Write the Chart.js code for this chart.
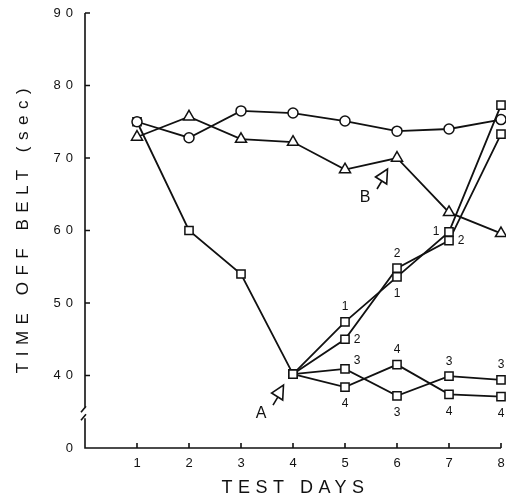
<!DOCTYPE html>
<html>
<head>
<meta charset="utf-8">
<script src="https://cdn.jsdelivr.net/npm/chart.js@4.4.0/dist/chart.umd.min.js"></script>
<style>
  html, body { margin: 0; padding: 0; background: #fff; }
</style>
</head>
<body>
<canvas id="belt-chart" width="506" height="498"></canvas>
<script>
// test days and the three groups (circles, triangles, squares)
const days = [1, 2, 3, 4, 5, 6, 7, 8];
const circleValues = [75.0, 72.8, 76.5, 76.2, 75.1, 73.7, 74.0, 75.3];
const triangleValues = [72.9, 75.7, 72.6, 72.2, 68.4, 70.0, 62.5, 59.6];

// squares: one line to day 4, then four sub-groups branch off
const baseDays = [1, 2, 3, 4];
const baseValues = [75.0, 60.0, 54.0, 40.2];
const branchDays = [4, 5, 6, 7, 8];
const branch1 = [40.2, 47.4, 53.6, 59.8, 77.3];
const branch2 = [40.2, 45.0, 54.8, 58.6, 73.3];
const branch3 = [40.2, 40.9, 37.2, 39.9, 39.4];
const branch4 = [40.2, 38.4, 41.5, 37.4, 37.1];
const branchNames = ['1', '2', '3', '4'];

// y axis is broken: the lowest tick (30) is labelled 0
const yTicks = [30, 40, 50, 60, 70, 80, 90];
const yTickLabels = ['0', '40', '50', '60', '70', '80', '90'];

// arrows "A" and "B" point at these data points
const arrowMarks = [
    { text: 'A', x: 4, y: 40.2 },
    { text: 'B', x: 6, y: 70.0 }
];

const ink = '#111';
const tickFont = { family: 'Liberation Sans', size: 13 };

// where each branch number sits next to its point on days 5..8
const labelSpots = [
    ['above', 'below', 'left', null],
    ['right', 'above', 'right', null],
    ['upright', 'below', 'above', 'above'],
    ['below', 'above', 'below', 'below']
];
const spotOffset = {
    above: [0, -15], below: [0, 17], left: [-13, 0], right: [12, 0], upright: [12, -8]
};

function pts(xs, ys) {
    return xs.map((d, i) => ({ x: d, y: ys[i] }));
}

function lineSet(xs, ys, style, radius) {
    return {
        data: pts(xs, ys),
        borderColor: ink,
        borderWidth: 1.8,
        pointStyle: style,
        pointRadius: radius,
        pointBorderWidth: 1.5,
        pointBorderColor: ink,
        pointBackgroundColor: '#fff',
        tension: 0,
        clip: false
    };
}

const branches = [branch1, branch2, branch3, branch4];

const figureDecor = {
    id: 'figureDecor',
    beforeLayout(chart) { chart.ctx.letterSpacing = '5px'; },
    beforeDraw(chart) { chart.ctx.letterSpacing = '5px'; },
    afterDraw(chart) {
        const { ctx, chartArea: area, scales: { x, y } } = chart;
        ctx.save();
        ctx.strokeStyle = ink;
        ctx.fillStyle = ink;
        ctx.lineWidth = 1.6;

        // axes, with a break in the y axis between 0 and 40
        const breakY = y.getPixelForValue(34.8);
        ctx.beginPath();
        ctx.moveTo(area.left, area.top);
        ctx.lineTo(area.left, breakY - 5);
        ctx.moveTo(area.left, breakY + 5);
        ctx.lineTo(area.left, area.bottom);
        ctx.lineTo(area.right, area.bottom);
        ctx.moveTo(area.left - 4, breakY - 1);
        ctx.lineTo(area.left + 1, breakY - 7);
        ctx.moveTo(area.left - 4, breakY + 7);
        ctx.lineTo(area.left + 1, breakY + 1);
        // inward tick marks
        y.ticks.forEach(t => {
            if (t.value > 30) {
                const py = y.getPixelForValue(t.value);
                ctx.moveTo(area.left, py);
                ctx.lineTo(area.left + 5, py);
            }
        });
        x.ticks.forEach(t => {
            const px = x.getPixelForValue(t.value);
            ctx.moveTo(px, area.bottom);
            ctx.lineTo(px, area.bottom - 5);
        });
        ctx.stroke();

        // branch numbers next to the square points
        ctx.letterSpacing = '0px';
        ctx.font = '12px "Liberation Sans"';
        ctx.textAlign = 'center';
        ctx.textBaseline = 'middle';
        branches.forEach((b, i) => {
            const meta = chart.getDatasetMeta(3 + i);
            labelSpots[i].forEach((spot, j) => {
                if (!spot) return;
                const el = meta.data[j + 1];
                const [dx, dy] = spotOffset[spot];
                ctx.fillText(branchNames[i], el.x + dx, el.y + dy);
            });
        });

        // hollow arrowheads with letters
        ctx.font = '16px "Liberation Sans"';
        arrowMarks.forEach(m => {
            const px = x.getPixelForValue(m.x);
            const py = y.getPixelForValue(m.y);
            ctx.beginPath();
            ctx.moveTo(px - 21.5, py + 19);
            ctx.lineTo(px - 9.5, py + 11);
            ctx.lineTo(px - 10.3, py + 26);
            ctx.closePath();
            ctx.moveTo(px - 20, py + 31);
            ctx.lineTo(px - 15.5, py + 23.5);
            ctx.stroke();
            ctx.fillText(m.text, px - 32, py + 40);
        });

        // axis titles
        ctx.letterSpacing = '5.5px';
        ctx.font = '18px "Liberation Sans"';
        ctx.fillText('TEST DAYS', (area.left + area.right) / 2 + 2.5, 488);
        ctx.translate(23, (area.top + area.bottom) / 2);
        ctx.rotate(-Math.PI / 2);
        ctx.letterSpacing = '6.5px';
        ctx.font = '17px "Liberation Sans"';
        ctx.fillText('TIME OFF BELT (sec)', 3, 0);
        ctx.restore();
    }
};

new Chart(document.getElementById('belt-chart'), {
    type: 'line',
    data: {
        datasets: [
            lineSet(days, circleValues, 'circle', 5),
            lineSet(days, triangleValues, 'triangle', 6.4),
            lineSet(baseDays, baseValues, 'rect', 5.8),
            lineSet(branchDays, branch1, 'rect', 5.8),
            lineSet(branchDays, branch2, 'rect', 5.8),
            lineSet(branchDays, branch3, 'rect', 5.8),
            lineSet(branchDays, branch4, 'rect', 5.8)
        ]
    },
    options: {
        responsive: false,
        animation: false,
        layout: { autoPadding: false, padding: { top: 13, right: 5, left: 0, bottom: 0 } },
        plugins: {
            legend: { display: false },
            tooltip: { enabled: false }
        },
        scales: {
            x: {
                type: 'linear',
                min: 0,
                max: 8,
                afterBuildTicks: s => { s.ticks = days.map(v => ({ value: v })); },
                afterFit: s => { s.height = 50; s.paddingLeft = 0; s.paddingRight = 0; },
                grid: { display: false, drawTicks: false },
                border: { display: false },
                ticks: { color: ink, font: tickFont, padding: 8, maxRotation: 0, labelOffset: 2.5 }
            },
            y: {
                min: 30,
                max: 90,
                afterBuildTicks: s => { s.ticks = yTicks.map(v => ({ value: v })); },
                afterFit: s => { s.width = 85; s.paddingTop = 0; s.paddingBottom = 0; },
                grid: { display: false, drawTicks: false },
                border: { display: false },
                ticks: {
                    color: ink,
                    font: tickFont,
                    padding: 7,
                    callback: v => yTickLabels[yTicks.indexOf(v)]
                }
            }
        }
    },
    plugins: [figureDecor]
});
</script>
</body>
</html>
